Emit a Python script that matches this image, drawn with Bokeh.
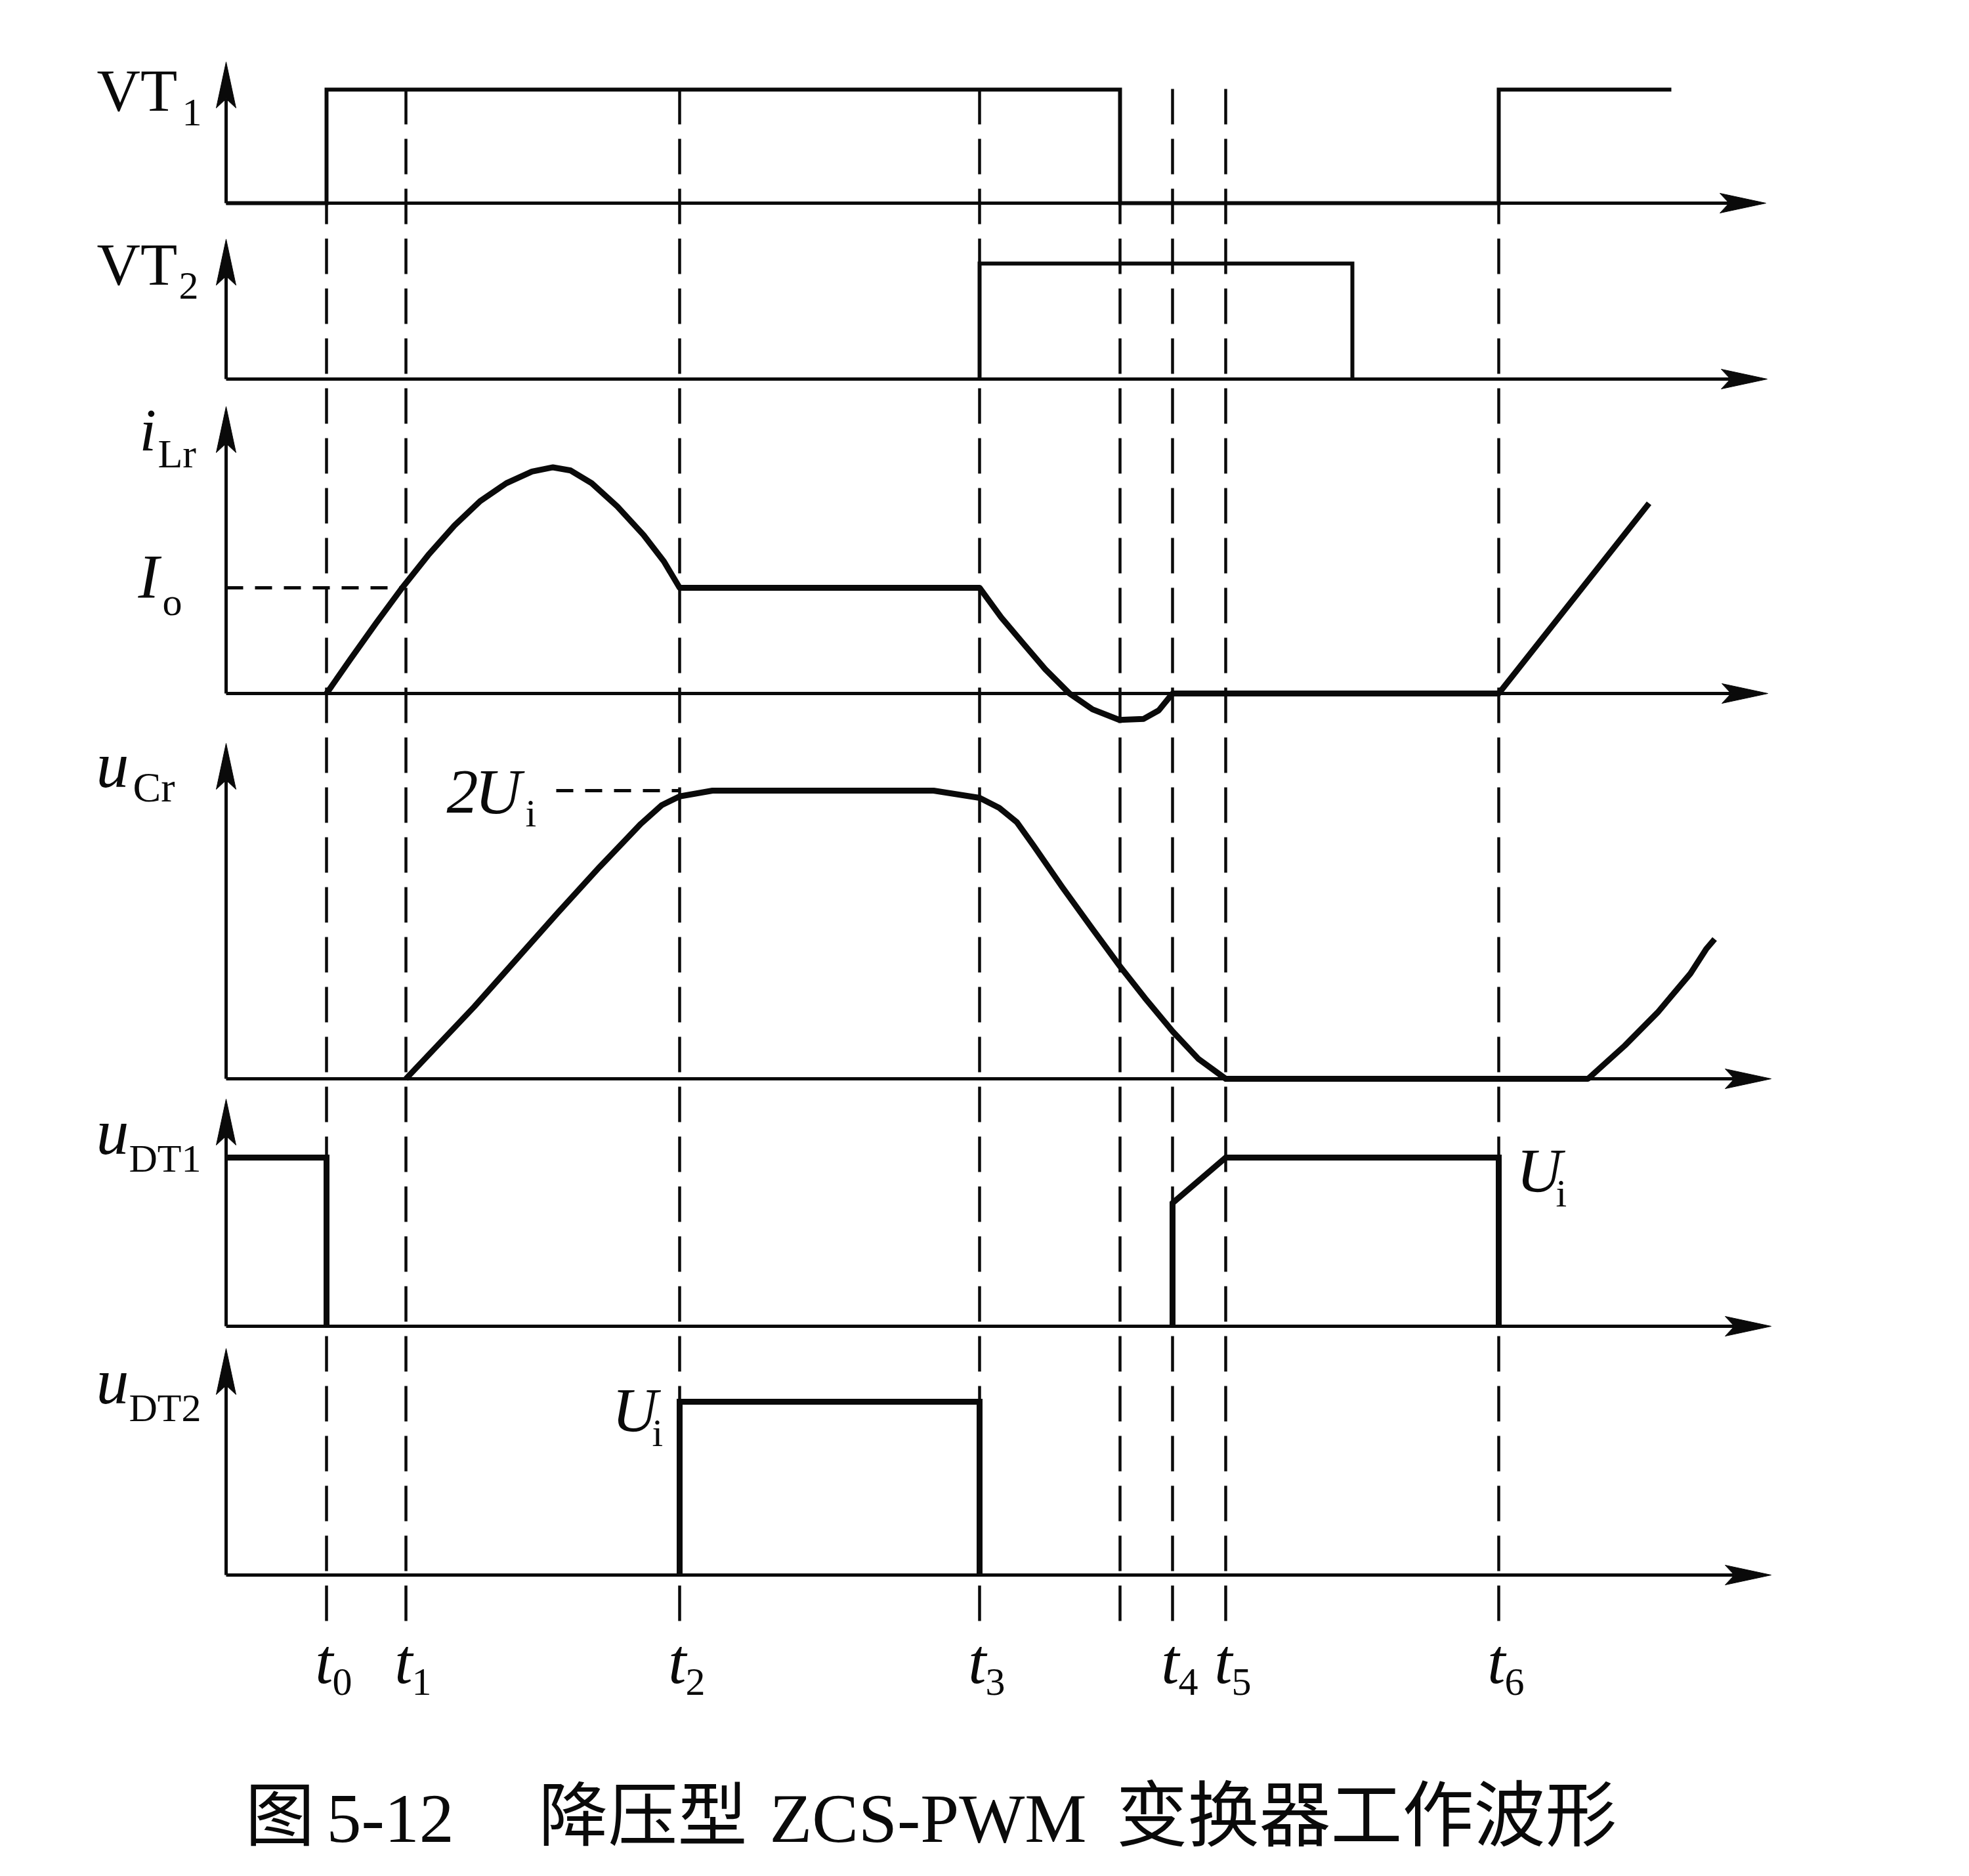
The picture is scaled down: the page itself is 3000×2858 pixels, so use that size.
from bokeh.plotting import figure
from bokeh.models import Range1d
from bokeh.core.properties import value
from bokeh.embed import file_html
from bokeh.resources import INLINE

# ---------------- data (time in arbitrary units, axis origin = 0) ----------------
event_times = [1.53, 2.74, 6.91, 11.48, 13.62, 14.42, 15.23, 19.39]
event_subs = ["0", "1", "2", "3", "", "4", "5", "6"]

# gate signals (0 = off, 1 = on)
vt1_t = [0.0, 1.53, 1.53, 13.62, 13.62, 19.39, 19.39, 22.02]
vt1_v = [0, 0, 1, 1, 0, 0, 1, 1]
vt2_t = [11.48, 11.48, 17.16, 17.16]
vt2_v = [0, 1, 1, 0]

# resonant inductor current, in units of Io
ilr_t = [1.53, 1.90, 2.29, 2.67, 3.08, 3.48, 3.87, 4.27, 4.66, 4.98, 5.25, 5.57,
         5.96, 6.36, 6.67, 6.91, 11.48, 11.81, 12.15, 12.48, 12.85, 13.20, 13.61,
         13.98, 14.21, 14.42, 19.39, 21.68]
ilr_v = [0.0, 0.33, 0.67, 0.99, 1.31, 1.59, 1.82, 1.99, 2.10, 2.14, 2.11, 1.99,
         1.77, 1.50, 1.25, 1.0, 1.0, 0.72, 0.47, 0.23, 0.0, -0.15, -0.25,
         -0.24, -0.16, 0.0, 0.0, 1.80]

# resonant capacitor voltage, in units of Ui
ucr_t = [2.74, 3.78, 5.05, 5.69, 6.32, 6.64, 6.91, 7.41, 10.78, 11.48, 11.78, 12.05,
         12.30, 12.74, 13.20, 13.62, 14.00, 14.42, 14.81, 15.23, 20.75, 21.31, 21.81,
         22.31, 22.55, 22.68]
ucr_v = [0.0, 0.50, 1.15, 1.47, 1.77, 1.90, 1.96, 2.0, 2.0, 1.95, 1.88, 1.78,
         1.62, 1.33, 1.04, 0.78, 0.56, 0.33, 0.14, 0.0, 0.0, 0.23, 0.46,
         0.73, 0.90, 0.97]

# switch voltages, in units of Ui
udt1_t = [[0.0, 1.53, 1.53], [14.42, 14.42, 15.23, 19.39, 19.39]]
udt1_v = [[1, 1, 0], [0, 0.73, 1, 1, 0]]
udt2_t = [6.91, 6.91, 11.48, 11.48]
udt2_v = [0, 1, 1, 0]

io_level = 1.0        # Io
two_ui_level = 2.0    # 2Ui
io_dash_t = [0.0, 2.74]
two_ui_dash_t = [5.03, 6.91]

title_parts = ["图", "5-12", "降压型", "ZCS-PWM", "变换器工作波形"]

# ---------------- layout ----------------
W, H = 2984, 2842
M = 8
X0 = 352          # px of time origin
PXT = 100.0       # px per time unit


def tx(px):
    return (px - X0) / PXT


channels = {
    "vt1": dict(base=317, unit=173, tip=102, xend=2698),
    "vt2": dict(base=585, unit=176, tip=372, xend=2700),
    "ilr": dict(base=1064, unit=161, tip=627, xend=2701),
    "ucr": dict(base=1651, unit=219.5, tip=1140, xend=2706),
    "udt1": dict(base=2028, unit=257, tip=1682, xend=2706),
    "udt2": dict(base=2407, unit=264, tip=2062, xend=2706),
}

p = figure(width=W, height=H, output_backend="svg", toolbar_location=None,
           x_range=Range1d(tx(M), tx(M + W)), y_range=Range1d(M + H, M),
           x_axis_location=None, y_axis_location=None, min_border=0,
           outline_line_color=None, background_fill_color="white",
           border_fill_color="white")
p.grid.visible = False
p.extra_y_ranges = {k: Range1d((c["base"] - (M + H)) / c["unit"], (c["base"] - M) / c["unit"])
                    for k, c in channels.items()}

INK = "#0a0a0a"
SERIF = value("Liberation Serif")
CJK = value("Noto Sans CJK SC")

# vertical dashed event lines
p.segment(x0=event_times, y0=143, x1=event_times, y1=2497, line_color=INK,
          line_width=4.5, line_dash="54 22")

# axes with arrowheads
AL, AN, AW = 70, 14, 15   # arrow length, notch, half-width (px)
for c in channels.values():
    b = c["base"]
    p.segment(x0=[0, 0], y0=[b, b], x1=[0, tx(c["xend"] - AL + AN)],
              y1=[c["tip"] + AL - AN, b], line_color=INK, line_width=5)
    p.patch(x=[0, -AW / PXT, 0, AW / PXT],
            y=[c["tip"], c["tip"] + AL, c["tip"] + AL - AN, c["tip"] + AL],
            fill_color=INK, line_color=INK, line_width=1)
    xe = tx(c["xend"])
    p.patch(x=[xe, xe - AL / PXT, xe - (AL - AN) / PXT, xe - AL / PXT],
            y=[b, b - AW, b, b + AW], fill_color=INK, line_color=INK, line_width=1)

# reference dashed levels
p.line(io_dash_t, [io_level, io_level], y_range_name="ilr", line_color=INK,
       line_width=5, line_dash="26 18")
p.line(two_ui_dash_t, [two_ui_level, two_ui_level], y_range_name="ucr", line_color=INK,
       line_width=5, line_dash="26 18")

# waveforms
p.line(vt1_t, vt1_v, y_range_name="vt1", line_color=INK, line_width=6, line_join="miter")
p.line(vt2_t, vt2_v, y_range_name="vt2", line_color=INK, line_width=6, line_join="miter")
p.line(ilr_t, ilr_v, y_range_name="ilr", line_color=INK, line_width=9, line_join="round")
p.line(ucr_t, ucr_v, y_range_name="ucr", line_color=INK, line_width=9, line_join="round")
p.multi_line(udt1_t, udt1_v, y_range_name="udt1", line_color=INK, line_width=9,
             line_join="miter")
p.line(udt2_t, udt2_v, y_range_name="udt2", line_color=INK, line_width=9, line_join="miter")


def txt(px, py, s, size, style="normal", font=SERIF, align="left", baseline="alphabetic"):
    if baseline == "alphabetic":
        py = py - 0.3 * size     # compensate renderer offset of the alphabetic baseline
    p.text(x=[tx(px)], y=[py], text=[s], text_font=font, text_font_size=f"{size}px",
           text_font_style=style, text_align=align, text_baseline=baseline, text_color=INK)


MAIN, SUB = 92, 60
# channel labels
txt(155, 173, "VT", MAIN)
txt(285, 197, "1", SUB)
txt(155, 438, "VT", MAIN)
txt(280, 461, "2", SUB)
txt(220, 690, "i", MAIN, "italic")
txt(248, 717, "Lr", SUB + 2)
txt(218, 915, "I", MAIN + 4, "italic")
txt(255, 942, "o", SUB)
txt(154, 1203, "u", MAIN + 8, "italic")
txt(210, 1226, "Cr", SUB + 4)
txt(688, 1243, "2", MAIN + 4, "italic")
txt(731, 1243, "U", MAIN + 6, "italic")
txt(808, 1264, "i", SUB)
txt(154, 1762, "u", MAIN + 8, "italic")
txt(204, 1790, "DT1", SUB)
txt(154, 2142, "u", MAIN + 8, "italic")
txt(204, 2170, "DT2", SUB)
txt(2318, 1820, "U", MAIN + 4, "italic")
txt(2378, 1843, "i", SUB)
txt(940, 2185, "U", MAIN + 4, "italic")
txt(1001, 2208, "i", SUB)

# time labels
for t, s in zip(event_times, event_subs):
    if not s:
        continue
    px = X0 + t * PXT
    txt(px + 10, 2568, "t", MAIN + 6, "italic", align="right")
    txt(px + 9, 2588, s, SUB)

# caption (kept slightly above the page's bottom edge)
TY = 2764
txt(381, TY, title_parts[0], 106, font=CJK, baseline="middle")
txt(505, TY + 46, title_parts[1], 106)
txt(828, TY, title_parts[2], 106, font=CJK, baseline="middle")
txt(1180, TY + 46, title_parts[3], 106)
txt(1708, TY, title_parts[4], 109, font=CJK, baseline="middle")

open("out.html", "w").write(file_html(p, INLINE))
